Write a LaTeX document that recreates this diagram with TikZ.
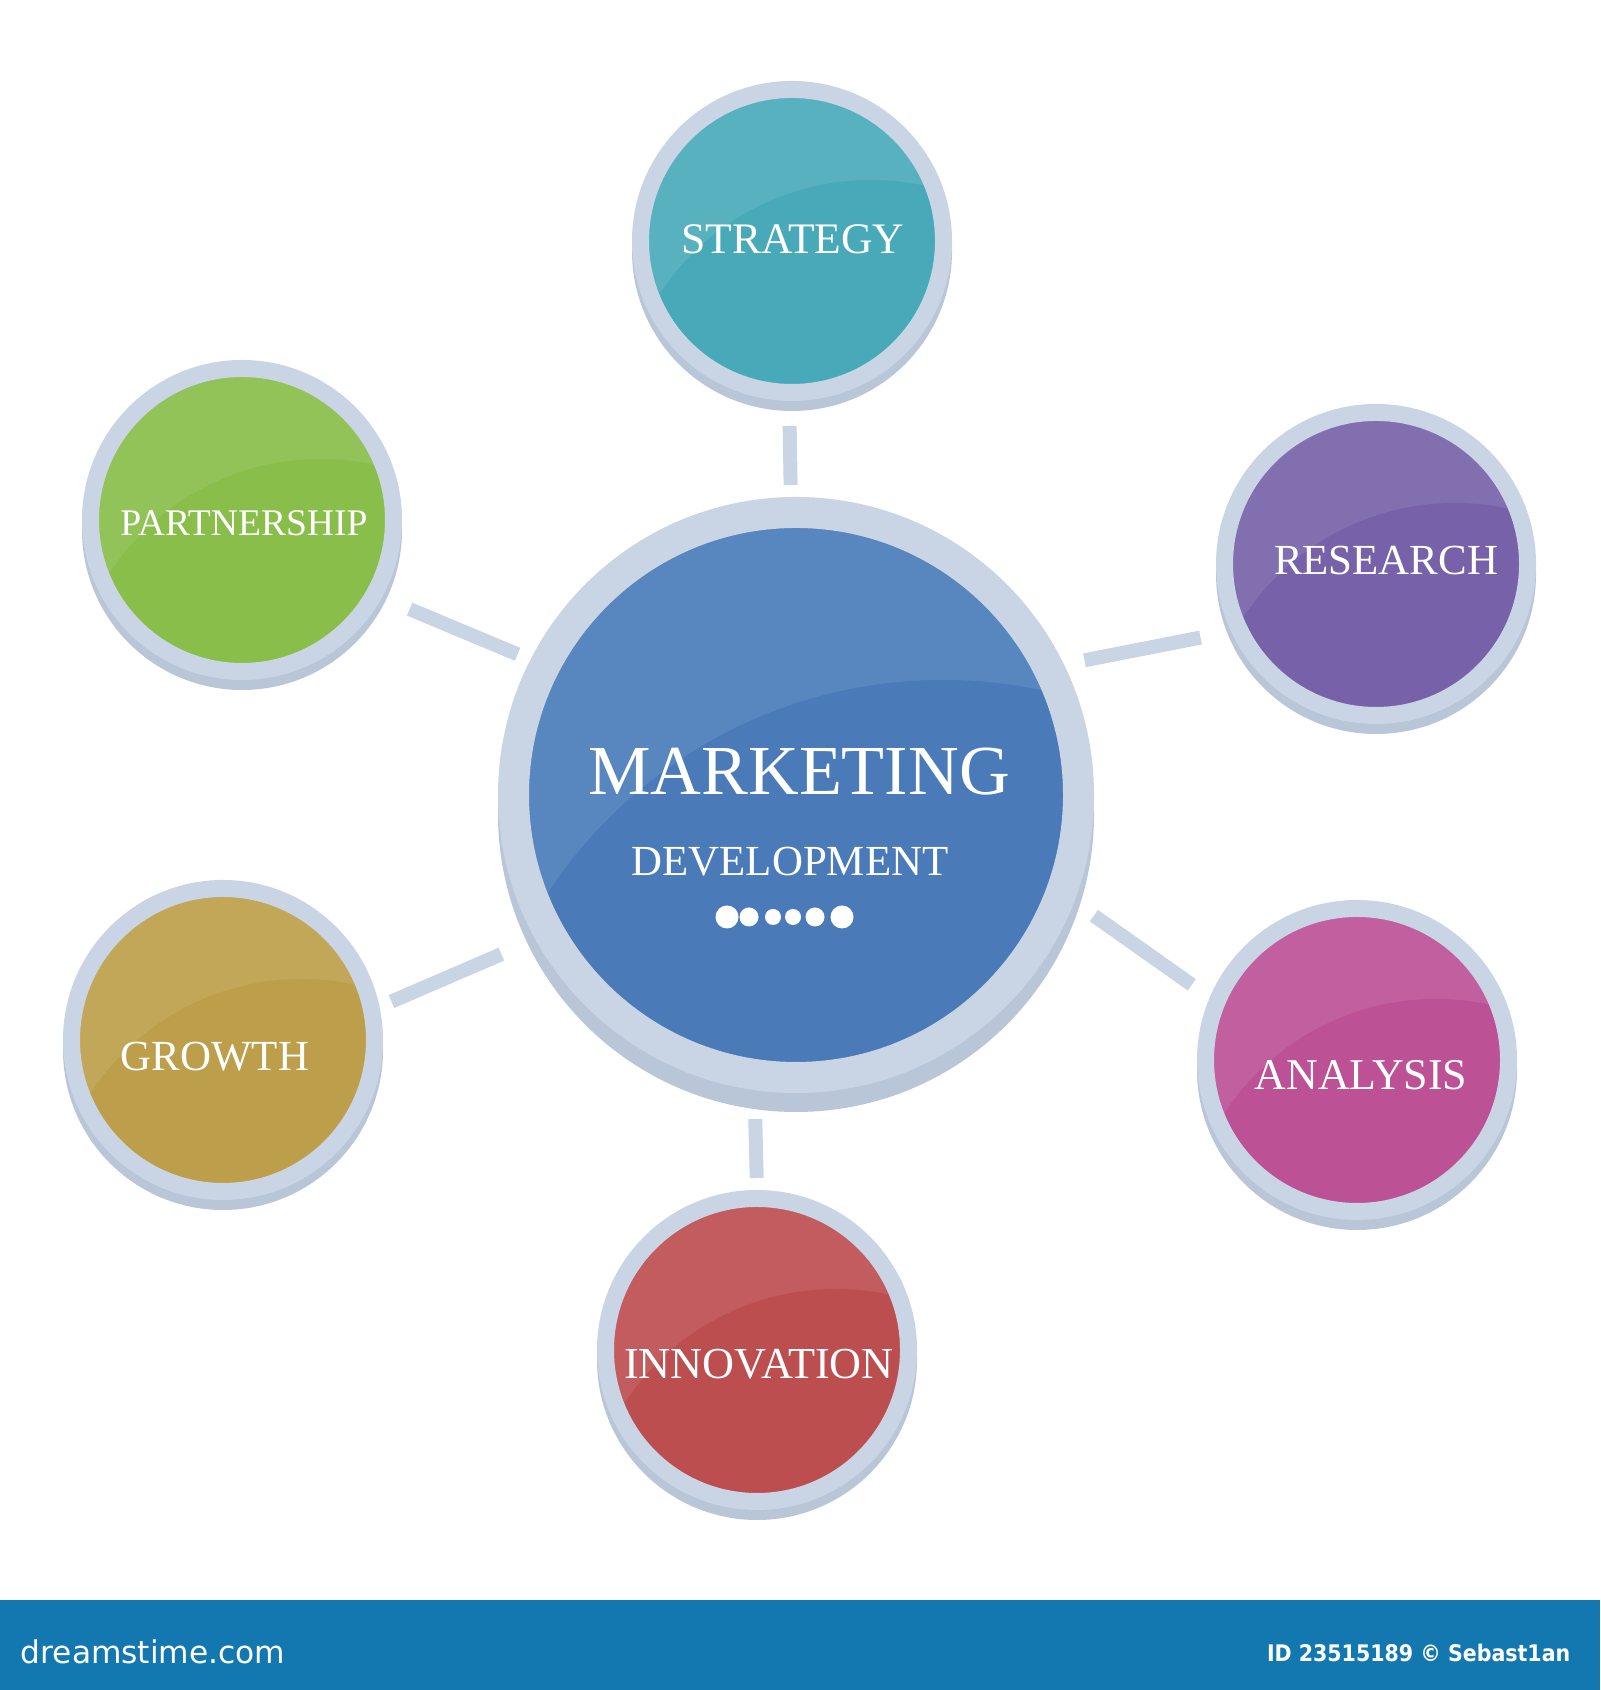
\documentclass[tikz,border=0pt]{standalone}
\usepackage{fontspec}
\setmainfont{Liberation Serif}
\newfontfamily\sitefont{DejaVu Sans}
\newfontfamily\idfont{DejaVu Sans Condensed}
\usepackage{tikz}
\usetikzlibrary{positioning}

\definecolor{ringc}{HTML}{C9D5E4}
\definecolor{ringshade}{HTML}{B9C6D8}
\definecolor{tealc}{HTML}{48AAB8}
\definecolor{purplec}{HTML}{7762A9}
\definecolor{greenc}{HTML}{89BE4B}
\definecolor{olivec}{HTML}{BD9F4B}
\definecolor{magentac}{HTML}{BD5196}
\definecolor{redc}{HTML}{BD4E50}
\definecolor{bluec}{HTML}{4A7BB8}
\definecolor{barblue}{HTML}{1478B0}

\begin{document}
\begin{tikzpicture}[-,line join=round,
  gloss/.style n args={4}{fill=#1!92!white, path picture={\fill[#1] (path picture bounding box.center) ++(#2,#3) circle (#4);}},
  bubble node/.style={circle, inner sep=0pt, minimum size=3.03cm, line width=0.17cm, draw=ringc,
    preaction={draw=ringshade, line width=0.17cm, transform canvas={yshift=-0.1cm}},
    gloss={#1}{0.79}{-1.92}{2.53}},
  hub node/.style={circle, inner sep=0pt, minimum size=5.65cm, line width=0.31cm, draw=ringc,
    preaction={draw=ringshade, line width=0.31cm, transform canvas={yshift=-0.19cm}},
    gloss={#1}{1.47}{-3.58}{4.73}},
  label text/.style={text=white, font=\fontsize{12.2}{14.5}\selectfont},
  link/.style={draw=ringc, line width=0.14cm}]
  \useasboundingbox (0,0) rectangle (16,16.9);
  \fill[white] (0,0) rectangle (16,16.9);

  % Nodes
  \node[hub node=bluec] (0) at (7.96,8.95) {};
  \node[bubble node=tealc] (1) at (7.92,14.49) {};
  \node[bubble node=purplec] (2) at (13.76,11.26) {};
  \node[bubble node=magentac] (3) at (13.57,6.30) {};
  \node[bubble node=redc] (4) at (7.57,3.40) {};
  \node[bubble node=olivec] (5) at (2.23,6.50) {};
  \node[bubble node=greenc] (6) at (2.42,11.70) {};

  % Labels
  \node[label text, font=\fontsize{12.4}{14.5}\selectfont] (11) at (7.93,14.51) {STRATEGY};
  \node[label text] (12) at (13.86,11.29) {RESEARCH};
  \node[label text, font=\fontsize{12.5}{14.5}\selectfont] (13) at (13.61,6.15) {ANALYSIS};
  \node[label text, font=\fontsize{12.6}{14.5}\selectfont] (14) at (7.59,3.26) {INNOVATION};
  \node[label text] (15) at (2.15,6.33) {GROWTH};
  \node[label text, font=\fontsize{10.7}{12.5}\selectfont] (16) at (2.44,11.67) {PARTNERSHIP};

  \node[text=white, font=\fontsize{20}{24}\selectfont] (7) at (7.99,9.18) {MARKETING};
  \node[text=white, font=\fontsize{12.2}{14.5}\selectfont] (8) at (7.90,8.28) {DEVELOPMENT};
  \foreach \x/\r in {7.27/0.115, 7.49/0.095, 7.73/0.08, 7.93/0.08, 8.15/0.095, 8.42/0.115}
    \fill[white] (\x,7.73) circle (\r);

  \path
    (0.91) edge[link, shorten <=0.12cm, shorten >=0.25cm] (1.269)
    (0.26.2) edge[link, shorten <=0.21cm, shorten >=0.31cm] (2.205.4)
    (0.339.4) edge[link, shorten <=0.24cm, shorten >=0.22cm] (3.157.4)
    (0.262.4) edge[link, shorten <=0.29cm, shorten >=0.12cm] (4.90)
    (0.209.4) edge[link, shorten <=0.37cm, shorten >=0.13cm] (5.12.5)
    (0.153.2) edge[link, shorten <=0.14cm, shorten >=0.30cm] (6.331.2);

  % bottom strip
  \fill[barblue] (0,0) rectangle (16,0.9);
  \node[anchor=west, inner sep=0pt, text=white, font=\sitefont\fontsize{8.9}{11}\selectfont] (9) at (0.2,0.38) {dreamstime.com};
  \node[anchor=east, inner sep=0pt, text=white, font=\idfont\bfseries\fontsize{6.5}{8}\selectfont] (10) at (15.71,0.37) {ID 23515189 © Sebast1an};
\end{tikzpicture}
\end{document}
